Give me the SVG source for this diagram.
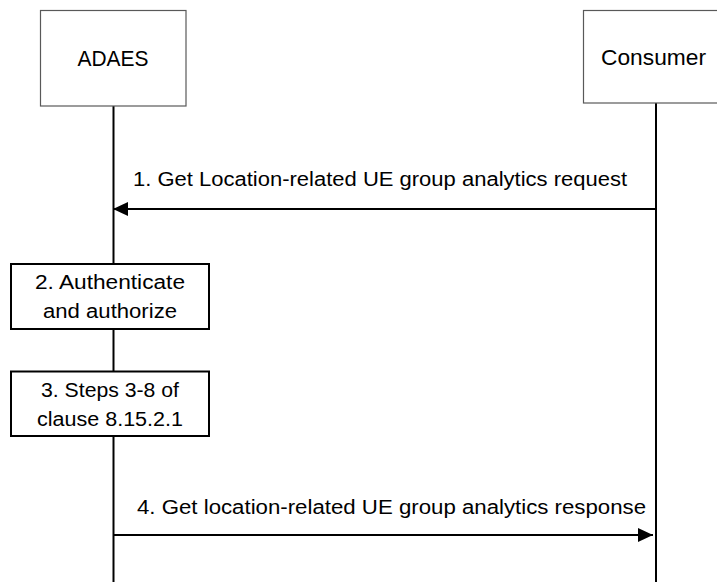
<svg xmlns="http://www.w3.org/2000/svg" width="717" height="582" viewBox="0 0 717 582">
<style>
text{font-family:"Liberation Sans",Arial,sans-serif;fill:#000}
.hdr{fill:#fff;stroke:#595959;stroke-width:1.2}
.step{fill:#fff;stroke:#000;stroke-width:2}
.life{stroke:#000;stroke-width:2;fill:none}
.msg{stroke:#000;stroke-width:2;fill:none;marker-end:url(#ah)}
.t20{font-size:20px}
.t22{font-size:22px}
</style>
<defs>
<marker id="ah" markerUnits="userSpaceOnUse" markerWidth="16" markerHeight="14" refX="15" refY="7" orient="auto">
<path d="M0,0 L15,7 L0,14 Z" fill="#000"/>
</marker>
</defs>
<rect width="717" height="582" fill="#fff"/>
<g id="connectors">
<line class="life" x1="113.5" y1="106" x2="113.5" y2="264"/>
<line class="life" x1="113.5" y1="329" x2="113.5" y2="371"/>
<line class="life" x1="113.5" y1="436" x2="113.5" y2="582"/>
<line class="life" x1="656" y1="103" x2="656" y2="582"/>
<line id="m1" class="msg" x1="655" y1="209" x2="113" y2="209"/>
<text class="t20" x="133" y="186" textLength="494" lengthAdjust="spacingAndGlyphs">1. Get Location-related UE group analytics request</text>
<line id="m4" class="msg" x1="113" y1="535" x2="653" y2="535"/>
<text class="t20" x="137" y="514" textLength="509" lengthAdjust="spacingAndGlyphs">4. Get location-related UE group analytics response</text>
</g>
<g id="adaes">
<rect class="hdr" x="40.5" y="10.5" width="145.5" height="95.5"/>
<text class="t22" x="113" y="66" text-anchor="middle" textLength="71" lengthAdjust="spacingAndGlyphs">ADAES</text>
</g>
<g id="consumer">
<rect class="hdr" x="583.5" y="10.5" width="150" height="92.5"/>
<text class="t22" x="601" y="65" textLength="105" lengthAdjust="spacingAndGlyphs">Consumer</text>
</g>
<g id="step2">
<rect class="step" x="11" y="264" width="198" height="65"/>
<text class="t20" x="110" y="289" text-anchor="middle" textLength="150" lengthAdjust="spacingAndGlyphs">2. Authenticate</text>
<text class="t20" x="110" y="318" text-anchor="middle" textLength="134" lengthAdjust="spacingAndGlyphs">and authorize</text>
</g>
<g id="step3">
<rect class="step" x="11" y="371.5" width="198" height="64.5"/>
<text class="t20" x="110" y="397" text-anchor="middle" textLength="138" lengthAdjust="spacingAndGlyphs">3. Steps 3-8 of</text>
<text class="t20" x="110" y="426" text-anchor="middle" textLength="146" lengthAdjust="spacingAndGlyphs">clause 8.15.2.1</text>
</g>
</svg>
